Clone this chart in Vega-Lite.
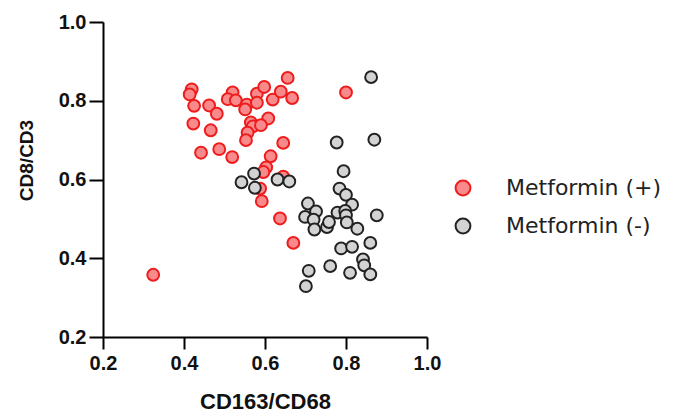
{
  "$schema": "https://vega.github.io/schema/vega-lite/v6.json",
  "width": 324,
  "height": 315,
  "autosize": {"type": "none"},
  "padding": {"left": 103, "top": 22, "right": 252, "bottom": 82},
  "background": "white",
  "config": {
    "view": {"stroke": null},
    "axis": {
      "grid": false,
      "domainColor": "black",
      "domainWidth": 2,
      "tickColor": "black",
      "tickWidth": 2,
      "labelFlush": false,
      "labelFont": "Liberation Sans",
      "labelFontWeight": "bold",
      "labelFontSize": 20,
      "labelColor": "#111",
      "titleFont": "Liberation Sans",
      "titleFontWeight": "bold",
      "titleColor": "#111"
    }
  },
  "data": {
    "values": [
      {"x": 0.419, "y": 0.829, "group": "Metformin (+)"},
      {"x": 0.414, "y": 0.816, "group": "Metformin (+)"},
      {"x": 0.425, "y": 0.787, "group": "Metformin (+)"},
      {"x": 0.462, "y": 0.788, "group": "Metformin (+)"},
      {"x": 0.481, "y": 0.767, "group": "Metformin (+)"},
      {"x": 0.423, "y": 0.742, "group": "Metformin (+)"},
      {"x": 0.466, "y": 0.725, "group": "Metformin (+)"},
      {"x": 0.442, "y": 0.668, "group": "Metformin (+)"},
      {"x": 0.487, "y": 0.677, "group": "Metformin (+)"},
      {"x": 0.519, "y": 0.657, "group": "Metformin (+)"},
      {"x": 0.520, "y": 0.821, "group": "Metformin (+)"},
      {"x": 0.508, "y": 0.804, "group": "Metformin (+)"},
      {"x": 0.528, "y": 0.801, "group": "Metformin (+)"},
      {"x": 0.555, "y": 0.790, "group": "Metformin (+)"},
      {"x": 0.551, "y": 0.778, "group": "Metformin (+)"},
      {"x": 0.580, "y": 0.818, "group": "Metformin (+)"},
      {"x": 0.580, "y": 0.795, "group": "Metformin (+)"},
      {"x": 0.598, "y": 0.835, "group": "Metformin (+)"},
      {"x": 0.619, "y": 0.803, "group": "Metformin (+)"},
      {"x": 0.639, "y": 0.823, "group": "Metformin (+)"},
      {"x": 0.656, "y": 0.858, "group": "Metformin (+)"},
      {"x": 0.667, "y": 0.807, "group": "Metformin (+)"},
      {"x": 0.608, "y": 0.755, "group": "Metformin (+)"},
      {"x": 0.565, "y": 0.745, "group": "Metformin (+)"},
      {"x": 0.570, "y": 0.735, "group": "Metformin (+)"},
      {"x": 0.590, "y": 0.738, "group": "Metformin (+)"},
      {"x": 0.557, "y": 0.719, "group": "Metformin (+)"},
      {"x": 0.553, "y": 0.700, "group": "Metformin (+)"},
      {"x": 0.645, "y": 0.693, "group": "Metformin (+)"},
      {"x": 0.614, "y": 0.659, "group": "Metformin (+)"},
      {"x": 0.603, "y": 0.631, "group": "Metformin (+)"},
      {"x": 0.596, "y": 0.619, "group": "Metformin (+)"},
      {"x": 0.645, "y": 0.607, "group": "Metformin (+)"},
      {"x": 0.588, "y": 0.577, "group": "Metformin (+)"},
      {"x": 0.592, "y": 0.545, "group": "Metformin (+)"},
      {"x": 0.637, "y": 0.501, "group": "Metformin (+)"},
      {"x": 0.670, "y": 0.439, "group": "Metformin (+)"},
      {"x": 0.800, "y": 0.821, "group": "Metformin (+)"},
      {"x": 0.324, "y": 0.358, "group": "Metformin (+)"},
      {"x": 0.573, "y": 0.615, "group": "Metformin (-)"},
      {"x": 0.542, "y": 0.593, "group": "Metformin (-)"},
      {"x": 0.575, "y": 0.579, "group": "Metformin (-)"},
      {"x": 0.631, "y": 0.600, "group": "Metformin (-)"},
      {"x": 0.660, "y": 0.595, "group": "Metformin (-)"},
      {"x": 0.794, "y": 0.621, "group": "Metformin (-)"},
      {"x": 0.784, "y": 0.577, "group": "Metformin (-)"},
      {"x": 0.800, "y": 0.561, "group": "Metformin (-)"},
      {"x": 0.815, "y": 0.536, "group": "Metformin (-)"},
      {"x": 0.706, "y": 0.539, "group": "Metformin (-)"},
      {"x": 0.699, "y": 0.505, "group": "Metformin (-)"},
      {"x": 0.726, "y": 0.519, "group": "Metformin (-)"},
      {"x": 0.720, "y": 0.498, "group": "Metformin (-)"},
      {"x": 0.722, "y": 0.473, "group": "Metformin (-)"},
      {"x": 0.753, "y": 0.479, "group": "Metformin (-)"},
      {"x": 0.758, "y": 0.492, "group": "Metformin (-)"},
      {"x": 0.779, "y": 0.516, "group": "Metformin (-)"},
      {"x": 0.798, "y": 0.520, "group": "Metformin (-)"},
      {"x": 0.800, "y": 0.509, "group": "Metformin (-)"},
      {"x": 0.802, "y": 0.491, "group": "Metformin (-)"},
      {"x": 0.828, "y": 0.475, "group": "Metformin (-)"},
      {"x": 0.876, "y": 0.509, "group": "Metformin (-)"},
      {"x": 0.788, "y": 0.425, "group": "Metformin (-)"},
      {"x": 0.815, "y": 0.429, "group": "Metformin (-)"},
      {"x": 0.860, "y": 0.439, "group": "Metformin (-)"},
      {"x": 0.842, "y": 0.397, "group": "Metformin (-)"},
      {"x": 0.845, "y": 0.382, "group": "Metformin (-)"},
      {"x": 0.860, "y": 0.359, "group": "Metformin (-)"},
      {"x": 0.810, "y": 0.363, "group": "Metformin (-)"},
      {"x": 0.761, "y": 0.380, "group": "Metformin (-)"},
      {"x": 0.708, "y": 0.368, "group": "Metformin (-)"},
      {"x": 0.701, "y": 0.329, "group": "Metformin (-)"},
      {"x": 0.862, "y": 0.860, "group": "Metformin (-)"},
      {"x": 0.870, "y": 0.701, "group": "Metformin (-)"},
      {"x": 0.777, "y": 0.694, "group": "Metformin (-)"}
    ]
  },
  "mark": {"type": "point", "shape": "circle", "filled": true, "size": 140, "strokeWidth": 2, "opacity": 1},
  "encoding": {
    "x": {
      "field": "x", "type": "quantitative", "title": "CD163/CD68",
      "scale": {"domain": [0.2, 1.0], "nice": false, "zero": false},
      "axis": {
        "values": [0.2, 0.4, 0.6, 0.8, 1.0], "format": ".1f",
        "tickSize": 12, "labelPadding": 4,
        "titleFontSize": 22, "titleBaseline": "middle", "titleY": 64
      }
    },
    "y": {
      "field": "y", "type": "quantitative", "title": "CD8/CD3",
      "scale": {"domain": [0.2, 1.0], "nice": false, "zero": false},
      "axis": {
        "values": [0.2, 0.4, 0.6, 0.8, 1.0], "format": ".1f",
        "tickSize": 14, "labelPadding": 3,
        "titleFontSize": 19, "titleAngle": -90, "titleBaseline": "middle", "titleAlign": "center",
        "titleX": -77, "titleY": 138
      }
    },
    "fill": {
      "field": "group", "type": "nominal",
      "scale": {"domain": ["Metformin (+)", "Metformin (-)"], "range": ["#f98a8c", "#d3d3d3"]},
      "legend": {
        "title": null, "orient": "none", "legendX": 349, "legendY": 155,
        "symbolSize": 220, "symbolStrokeWidth": 2,
        "labelFont": "DejaVu Sans", "labelFontSize": 22, "labelColor": "#222",
        "labelOffset": 32, "rowPadding": 14
      }
    },
    "stroke": {
      "field": "group", "type": "nominal",
      "scale": {"domain": ["Metformin (+)", "Metformin (-)"], "range": ["#ee1c1c", "#222222"]},
      "legend": null
    }
  }
}
